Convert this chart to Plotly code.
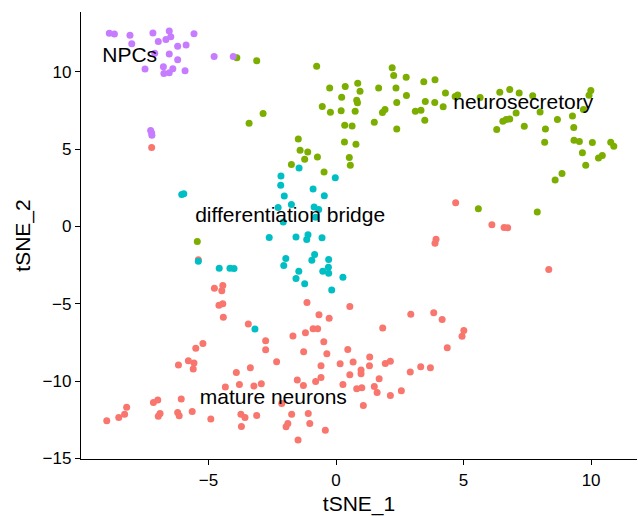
import plotly.graph_objects as go

# ---- data (tSNE coordinates) ----
npc_x = [-8.89, -8.69, -8.08, -8.01, -7.18, -6.54, -6.48, -6.67, -6.97, -5.57, -5.88, -6.21, -7.11,
         -6.54, -6.21, -6.77, -6.40, -6.54, -6.75, -5.92, -7.49, -4.78, -4.03, -7.27, -7.23, -7.22]
npc_y = [12.48, 12.44, 12.35, 11.81, 12.50, 12.63, 12.26, 12.09, 11.96, 12.45, 11.72, 11.64, 11.19,
         11.14, 10.77, 10.32, 10.19, 9.93, 9.89, 10.06, 10.17, 10.99, 10.99, 6.20, 6.04, 5.89]

neuro_x = [-3.89, -3.11, -2.86, -3.41, -0.76, 2.20, 2.26, 2.75, -0.25, 0.36, 0.85, 0.94, 0.22, 0.81,
           0.84, 1.67, 2.35, 2.76, 3.44, 3.88, 4.29, 4.67, 4.77, -0.54, -0.22, 0.20, 0.75, 2.38,
           3.50, 3.87, 4.20, 1.82, 1.92, 3.11, 3.33, 1.50, 3.48, 0.34, 0.63, 2.38, -1.48, 0.33,
           0.78, -1.41, -1.11, -1.23, -0.73, 0.52, -1.75, 0.56, -0.47, 5.65, 6.42, 6.81, 7.18,
           7.71, 9.99, 9.92, 7.06, 6.54, 6.67, 6.81, 6.30, 7.38, 8.00, 8.68, 9.27, 9.70, 8.21,
           9.32, 8.18, 9.33, 9.54, 10.05, 10.77, 10.89, 9.66, 10.29, 10.44, 9.79, 8.86, 8.59,
           5.58, 7.89, -5.44]
neuro_y = [10.90, 10.71, 7.30, 6.67, 10.36, 10.25, 9.76, 9.65, 8.94, 9.05, 9.26, 8.74, 8.35, 8.16,
           7.99, 8.94, 8.94, 8.47, 9.35, 9.48, 8.63, 8.40, 8.50, 7.75, 7.38, 7.47, 7.45, 8.01,
           8.08, 8.01, 7.73, 7.36, 7.56, 7.45, 7.51, 6.74, 6.87, 6.54, 6.50, 6.30, 5.65, 5.46,
           5.31, 4.92, 4.81, 4.34, 4.49, 4.45, 4.00, 3.95, 3.52, 8.34, 8.68, 8.85, 8.63,
           8.44, 8.79, 8.48, 7.34, 6.80, 6.91, 6.95, 6.26, 6.48, 7.40, 6.91, 7.14, 7.56, 6.30,
           6.39, 5.44, 5.57, 5.49, 5.42, 5.44, 5.18, 4.77, 4.42, 4.58, 3.95, 3.43, 3.00,
           1.15, 0.93, -0.97]

bridge_x = [-1.45, -2.16, -0.03, -2.17, -0.90, -2.03, -0.46, -6.05, -5.97, -1.75, -2.27, -0.86,
            -0.68, -2.07, -0.80, -2.62, -1.57, -1.15, -1.10, -0.55, -1.97, -2.05, -0.84, -0.95,
            -0.29, -0.30, -0.52, -0.29, -1.46, -1.57, -1.23, 0.27, -0.17, -5.40, -4.58, -4.16,
            -4.00, -3.18]
bridge_y = [3.78, 3.26, 3.15, 2.66, 2.42, 1.96, 1.99, 2.07, 2.12, 1.42, 1.23, 1.25,
            1.10, 0.28, 0.60, -0.71, -0.69, -0.84, -0.54, -0.73, -2.07, -2.53, -1.81, -2.18,
            -2.14, -2.64, -2.90, -3.02, -2.90, -3.37, -3.71, -3.28, -4.10, -2.25, -2.70, -2.70,
            -2.72, -6.63]

mature_x = [-7.23, 4.69, 6.11, 6.59, 6.73, 3.92, 3.88, 8.34, -5.40, -4.77, -4.44, -4.48, -4.59,
            -4.44, -4.42, -3.44, -2.76, -2.76, -5.22, -5.50, -5.79, -5.57, -5.60, -6.18, -2.33,
            -3.91, -3.36, -4.34, -3.79, -3.22, -2.93, -6.07, -7.16, -6.99, -8.21, -8.29, -8.52,
            -8.99, -6.90, -6.97, -6.21, -6.15, -5.64, -4.91, -3.73, -3.57, -3.11, -3.71, -1.14,
            0.54, -0.67, -0.27, 2.93, 3.83, 4.16, 5.01, 4.94, 1.83, -1.69, -1.20, -0.90, -0.72,
            -0.48, -1.27, -0.36, 0.46, 4.36, -0.59, 0.16, 0.67, 1.32, 1.31, 1.93, 2.13, 0.98,
            0.98, 0.54, -1.52, -0.80, -0.59, -1.28, 0.27, 1.69, 0.81, 1.01, 1.50, 1.61, 2.91,
            3.32, 3.70, 2.56, 2.13, 1.07, -2.13, -1.74, -1.09, -1.03, -1.89, -1.96, -0.42, -1.49]
mature_y = [5.10, 1.53, 0.11, -0.06, -0.08, -0.82, -1.08, -2.78, -2.16, -4.00, -3.82, -4.15, -5.10,
            -4.99, -5.87, -6.30, -7.38, -7.97, -7.56, -7.88, -8.68, -8.83, -9.22, -8.96, -8.74,
            -9.44, -9.13, -10.38, -10.21, -10.32, -10.16, -11.16, -11.38, -11.22, -11.68, -12.13,
            -12.35, -12.56, -12.09, -12.26, -12.03, -12.24, -11.96, -12.44, -12.13, -12.35,
            -12.22, -12.93, -4.92, -5.18, -5.70, -5.94, -5.68, -5.57, -6.02, -6.72, -7.10, -6.56,
            -7.08, -6.87, -6.61, -6.61, -7.45, -8.10, -8.23, -7.95, -7.84, -9.00, -8.87, -8.76,
            -8.44, -9.00, -8.85, -8.72, -9.28, -9.52, -9.59, -9.93, -10.02, -9.76, -10.28,
            -10.21, -9.84, -10.49, -10.43, -10.34, -10.73, -9.41, -9.07, -9.13, -10.62, -10.93,
            -11.57, -11.44, -12.13, -12.09, -12.74, -12.74, -12.95, -13.17, -13.80]

cluster_names = ["mature neurons", "neurosecretory", "differentiation bridge", "NPCs"]
cluster_colors = ["#F8766D", "#7CAE00", "#00BFC4", "#C77CFF"]
label_x = [-2.46, 7.34, -1.80, -8.09]
label_y = [-11.14, 7.90, 0.65, 10.95]

x_ticks = [-5, 0, 5, 10]
y_ticks = [-15, -10, -5, 0, 5, 10]

series = [(mature_x, mature_y), (neuro_x, neuro_y), (bridge_x, bridge_y), (npc_x, npc_y)]

FONT = "Liberation Sans, Arial, sans-serif"

fig = go.Figure()
for (xs, ys), name, col in zip(series, cluster_names, cluster_colors):
    fig.add_trace(go.Scatter(
        x=xs, y=ys, mode="markers", name=name,
        marker=dict(color=col, size=7, line=dict(width=0)),
        showlegend=False,
    ))

fig.add_trace(go.Scatter(
    x=label_x, y=label_y, mode="text", text=cluster_names,
    textposition="middle center",
    textfont=dict(family=FONT, size=21, color="black"),
    showlegend=False, hoverinfo="skip",
))

axis_common = dict(
    showgrid=False, zeroline=False, showline=True, linecolor="black", linewidth=1.3,
    ticks="outside", ticklen=5, tickwidth=1.3, tickcolor="black",
    tickfont=dict(family=FONT, size=17, color="black"),
    title_font=dict(family=FONT, size=21, color="black"),
)

fig.update_layout(
    width=638, height=516,
    margin=dict(l=81, r=1, t=12, b=57),
    plot_bgcolor="white", paper_bgcolor="white",
    xaxis=dict(range=[-10.0, 11.8], tickvals=x_ticks, title=dict(text="tSNE_1", standoff=9),
               **axis_common),
    yaxis=dict(range=[-15.03, 13.86], tickvals=y_ticks, title=dict(text="tSNE_2", standoff=6),
               **axis_common),
)

fig.write_html("out.html")
